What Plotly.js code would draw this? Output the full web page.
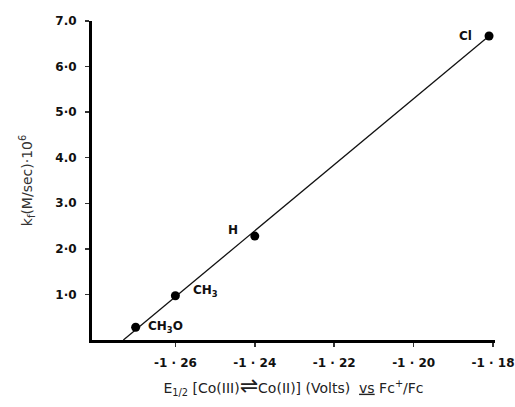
<!DOCTYPE html>
<html><head><meta charset="utf-8">
<script src="https://cdn.plot.ly/plotly-3.0.1.min.js"></script>
<style>html,body{margin:0;padding:0;background:#fff}#c{width:515px;height:407px}</style>
</head><body><div id="c"></div>
<script>
var labels = ["CH<sub>3</sub>O", "CH<sub>3</sub>", "H", "Cl"];
var e12 = [-1.270, -1.260, -1.240, -1.181];
var kf = [0.28, 0.97, 2.28, 6.67];
var fitX = [-1.2731, -1.181];
var fitY = [0, 6.67];
var yTickVals = [1, 2, 3, 4, 5, 6, 7];
var yTickText = ["1·0", "2·0", "3.0", "4.0", "5·0", "6·0", "7.0"];
var xTickVals = [-1.26, -1.24, -1.22, -1.20, -1.18];
var xTickText = ["-1 · 26", "-1 · 24", "-1 · 22", "-1 · 20", "-1 · 18"];
var labelShiftX = [30, 30, -22, -24];
var labelShiftY = [0, 5, 6, 0];

var ann = labels.map(function(t, i){
  return {x: e12[i], y: kf[i], xref: 'x', yref: 'y', text: '<b>' + t + '</b>', showarrow: false,
    xshift: labelShiftX[i], yshift: labelShiftY[i], font: {family: 'DejaVu Sans', size: 12, color: '#111'}};
});

Plotly.newPlot('c', [
  {x: fitX, y: fitY, mode: 'lines', line: {color: '#111', width: 1.3}, cliponaxis: false, hoverinfo: 'skip'},
  {x: e12, y: kf, mode: 'markers', marker: {color: '#000', size: 9}, cliponaxis: false}
], {
  width: 515, height: 407, showlegend: false,
  margin: {l: 92, r: 20, t: 21, b: 67},
  paper_bgcolor: '#fff', plot_bgcolor: '#fff',
  font: {family: 'DejaVu Sans', color: '#111'},
  xaxis: {range: [-1.281, -1.1795], showgrid: false, zeroline: false, showline: true, linewidth: 3, linecolor: '#000',
    ticks: 'outside', ticklen: 4, tickwidth: 1.5, tickcolor: '#333', tickvals: xTickVals, ticktext: xTickText,
    ticklabelstandoff: 6, ticklabeloverflow: 'allow',
    tickfont: {family: 'DejaVu Sans', size: 12, color: '#111', weight: 'bold'},
    title: {text: 'E<sub>1/2</sub> [Co(III)<span style="font-size:22px">⇌</span>Co(II)] (Volts)  <span style="text-decoration:underline">vs</span> Fc<sup>+</sup>/Fc', font: {family: 'DejaVu Sans', size: 14, color: '#222'}, standoff: 14}},
  yaxis: {range: [0, 7], showgrid: false, zeroline: false, showline: true, linewidth: 3, linecolor: '#000',
    ticks: 'outside', ticklen: 4, tickwidth: 1.5, tickcolor: '#333', tickvals: yTickVals, ticktext: yTickText,
    ticklabelstandoff: 6,
    tickfont: {family: 'DejaVu Sans', size: 12, color: '#111', weight: 'bold'},
    title: {text: 'k<sub>f</sub>(M/sec)·10<sup>6</sup>', font: {family: 'DejaVu Sans', size: 14, color: '#333'}, standoff: 20}},
  annotations: ann
}, {staticPlot: true});
</script></body></html>
